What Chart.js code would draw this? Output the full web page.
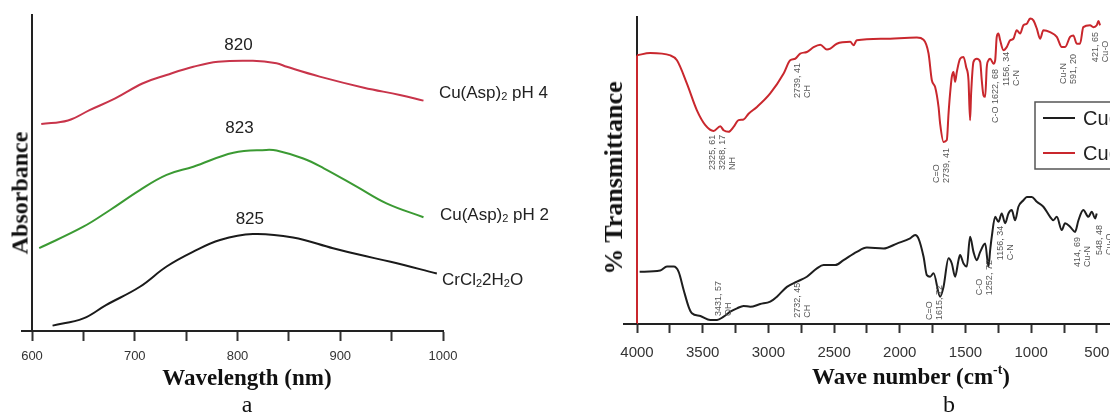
<!DOCTYPE html>
<html>
<head>
<meta charset="utf-8">
<script src="https://cdn.jsdelivr.net/npm/chart.js@4.4.1/dist/chart.umd.min.js"></script>
<style>
  html, body { margin: 0; padding: 0; background: #fff; }
  body { width: 1110px; height: 416px; position: relative; overflow: hidden; }
  canvas { position: absolute; top: 0; }
  #uvCanvas { left: 0; }
  #irCanvas { left: 590px; }
  .axis-title {
    position: absolute;
    font-family: "Liberation Serif", serif;
    font-weight: bold;
    color: #111;
    white-space: nowrap;
    transform: translate(-50%, -50%);
  }
  .axis-title.vertical { transform: translate(-50%, -50%) rotate(-90deg); }
  .axis-title sup { font-size: 60%; vertical-align: 0.7em; line-height: 0; }
  .panel-tag {
    position: absolute;
    font-family: "Liberation Serif", serif;
    font-size: 24px;
    color: #111;
    transform: translate(-50%, -50%);
  }
</style>
</head>
<body>
<canvas id="uvCanvas" width="570" height="416"></canvas>
<canvas id="irCanvas" width="620" height="416"></canvas>

<div class="axis-title vertical" style="left:20px; top:193px; font-size:24px;">Absorbance</div>
<div class="axis-title" style="left:247px; top:378px; font-size:23px;">Wavelength (nm)</div>
<div class="panel-tag" style="left:247px; top:404px;">a</div>

<div class="axis-title vertical" style="left:614px; top:178px; font-size:26px;">% Transmittance</div>
<div class="axis-title" style="left:911px; top:377px; font-size:23px;">Wave number (cm<sup>-t</sup>)</div>
<div class="panel-tag" style="left:949px; top:404px;">b</div>

<script>
// ---- panel a: UV-Vis spectra ----
const uvRedWl = [609, 635, 656, 681, 708, 731, 757, 781, 815, 838, 848, 880, 923, 958, 981];
const uvRedAbs = [0.655, 0.666, 0.699, 0.736, 0.784, 0.810, 0.836, 0.852, 0.855, 0.847, 0.836, 0.805, 0.770, 0.747, 0.729];

const uvGreenWl = [607, 650, 676, 705, 731, 757, 796, 828, 838, 864, 884, 916, 945, 981];
const uvGreenAbs = [0.262, 0.330, 0.383, 0.446, 0.494, 0.520, 0.564, 0.573, 0.571, 0.546, 0.515, 0.457, 0.404, 0.360];

const uvBlackWl = [620, 650, 672, 705, 731, 757, 783, 815, 854, 893, 919, 949, 994];
const uvBlackAbs = [0.017, 0.040, 0.082, 0.140, 0.204, 0.251, 0.288, 0.307, 0.296, 0.262, 0.241, 0.219, 0.182];

const uvPeakLabels = ['820', '823', '825'];
const uvSeriesNames = [
  [['Cu(Asp)', 0], ['2', 1], [' pH 4', 0]],
  [['Cu(Asp)', 0], ['2', 1], [' pH 2', 0]],
  [['CrCl', 0], ['2', 1], ['2H', 0], ['2', 1], ['O', 0]]
];

// ---- panel b: IR spectra ----
const irRedWn = [4000, 3899, 3746, 3696, 3620, 3544, 3480, 3417, 3366, 3341, 3303, 3265, 3227, 3189, 3151, 3087,
  2986, 2884, 2834, 2796, 2758, 2707, 2656, 2605, 2555, 2529, 2479, 2377, 2352, 2327, 2124, 1870, 1819, 1781,
  1756, 1731, 1705, 1693, 1667, 1642, 1629, 1617, 1604, 1591, 1579, 1566, 1541, 1515, 1495, 1477, 1465, 1457,
  1439, 1414, 1388, 1376, 1363, 1350, 1338, 1325, 1312, 1287, 1274, 1262, 1249, 1236, 1211, 1186, 1160, 1135,
  1110, 1084, 1059, 1033, 1008, 983, 957, 932, 907, 856, 805, 767, 742, 704, 679, 653, 628, 603, 552, 526, 501,
  488, 476];
const irRedT = [87.5, 88.3, 87.5, 85.9, 78.3, 69.6, 64.8, 62.9, 64.4, 63.1, 62.6, 64.2, 66.4, 66.6, 68.5, 70.7,
  75.1, 81.6, 85.9, 86.4, 88.1, 88.6, 90.2, 91.0, 89.4, 89.7, 91.3, 91.9, 90.8, 92.4, 92.9, 93.3, 92.6, 88.1,
  79.4, 77.2, 70.7, 65.3, 59.3, 59.9, 68.5, 75.1, 80.5, 82.1, 78.9, 82.1, 86.4, 87.0, 83.7, 79.4, 66.4, 75.1,
  85.4, 86.4, 85.4, 79.4, 74.5, 74.0, 83.7, 85.9, 86.4, 84.8, 85.9, 93.5, 94.6, 92.4, 89.2, 90.2, 92.4, 92.9,
  95.7, 94.6, 97.3, 97.8, 99.5, 98.9, 96.2, 92.9, 95.7, 95.1, 93.5, 90.2, 90.2, 93.5, 94.0, 91.3, 91.3, 96.7,
  97.3, 96.7, 97.3, 98.7, 97.3];

const irBlackWn = [3980, 3823, 3772, 3721, 3683, 3645, 3607, 3582, 3518, 3442, 3391, 3341, 3290, 3239, 3189, 3138,
  3062, 2986, 2935, 2859, 2783, 2707, 2631, 2580, 2491, 2428, 2327, 2251, 2124, 2022, 1921, 1883, 1858, 1819,
  1794, 1769, 1743, 1693, 1667, 1629, 1604, 1579, 1553, 1541, 1515, 1490, 1465, 1439, 1414, 1388, 1350, 1325,
  1312, 1300, 1274, 1249, 1224, 1198, 1173, 1148, 1122, 1097, 1059, 1033, 996, 957, 907, 856, 831, 805, 767,
  742, 704, 666, 640, 603, 564, 539, 513, 501];
const irBlackT = [17.0, 17.4, 18.7, 18.7, 17.0, 11.1, 5.6, 3.5, 2.6, 1.3, 1.3, 2.4, 4.0, 5.1, 5.9, 5.6,
  6.5, 7.3, 8.9, 12.1, 13.8, 15.4, 18.1, 19.2, 19.2, 20.8, 23.5, 24.9, 24.6, 26.2, 27.9, 29.0, 27.9, 21.9,
  15.9, 15.4, 16.5, 8.9, 12.1, 21.4, 19.7, 15.4, 20.8, 22.5, 19.7, 18.7, 28.4, 23.5, 20.8, 23.5, 26.2, 18.7,
  24.1, 28.4, 34.9, 33.3, 36.0, 32.8, 36.0, 37.1, 33.8, 38.2, 40.3, 41.4, 41.4, 39.8, 38.2, 34.9, 33.8, 34.9, 30.6,
  32.8, 31.7, 30.0, 33.8, 37.1, 34.9, 36.6, 34.4, 36.0];

const irSeriesNames = ['Cu(Asp)\u2082 pH 2', 'Cu(Asp)\u2082 pH 4'];

// peak notes: text columns, anchored at the bottom of the first column
const irNotes = [
  { wn: 3422, t: 50.2, lines: ['2325, 61', '3268, 17', 'NH'] },
  { wn: 2782, t: 73.6, lines: ['2739, 41', 'CH'] },
  { wn: 1717, t: 45.9, lines: ['C=O', '2739, 41'] },
  { wn: 1275, t: 65.5, lines: ['C-O 1622, 68'] },
  { wn: 1184, t: 77.5, lines: ['1156, 34', 'C-N'] },
  { wn: 750, t: 78.2, lines: ['Cu-N', '591, 20'] },
  { wn: 507, t: 85.3, lines: ['421, 65', 'Cu-O'] },
  { wn: 3376, t: 2.6, lines: ['3431, 57', 'OH'] },
  { wn: 2782, t: 2.0, lines: ['2732, 45', 'CH'] },
  { wn: 1770, t: 1.3, lines: ['C=O', '1615, 72'] },
  { wn: 1390, t: 9.4, lines: ['C-O', '1252, 72'] },
  { wn: 1237, t: 20.8, lines: ['1156, 34', 'C-N'] },
  { wn: 651, t: 18.6, lines: ['414, 69', 'Cu-N'] },
  { wn: 476, t: 22.5, lines: ['548, 48', 'Cu-O'] }
];

const toPoints = (xs, ys) => xs.map((x, i) => ({ x: x, y: ys[i] }));
const SANS = '"Liberation Sans", Arial, sans-serif';

// extends the x axis line a little to the left of the y axis
const axisStub = {
  id: 'axisStub',
  afterDraw(chart, args, opts) {
    const { ctx, chartArea } = chart;
    ctx.save();
    ctx.strokeStyle = opts.color || '#222';
    ctx.lineWidth = 2;
    ctx.beginPath();
    ctx.moveTo(chartArea.left - opts.length, chartArea.bottom);
    ctx.lineTo(chartArea.left, chartArea.bottom);
    ctx.stroke();
    ctx.restore();
  }
};

function drawRich(ctx, parts, x, y, size) {
  let cx = x;
  parts.forEach(([txt, sub]) => {
    ctx.font = (sub ? Math.round(size * 0.62) : size) + 'px ' + SANS;
    ctx.fillText(txt, cx, sub ? y + size * 0.22 : y);
    cx += ctx.measureText(txt).width;
  });
}

const uvLabels = {
  id: 'uvLabels',
  afterDraw(chart) {
    const { ctx, scales: { x, y } } = chart;
    ctx.save();
    ctx.fillStyle = '#222';
    ctx.textBaseline = 'middle';
    // peak positions above each curve
    const peakAt = [[801, 0.905], [802, 0.641], [812, 0.354]];
    ctx.textAlign = 'center';
    ctx.font = '17px ' + SANS;
    uvPeakLabels.forEach((txt, i) => {
      ctx.fillText(txt, x.getPixelForValue(peakAt[i][0]), y.getPixelForValue(peakAt[i][1]));
    });
    // series names at the right end
    const nameAt = [[996, 0.752], [997, 0.367], [999, 0.161]];
    ctx.textAlign = 'left';
    uvSeriesNames.forEach((parts, i) => {
      drawRich(ctx, parts, x.getPixelForValue(nameAt[i][0]), y.getPixelForValue(nameAt[i][1]), 17);
    });
    ctx.restore();
  }
};

const irExtras = {
  id: 'irExtras',
  afterDatasetsDraw(chart) {
    const { ctx, chartArea, scales: { x, y } } = chart;
    // red spectrum drops down along the y axis
    const first = chart.getDatasetMeta(1).data[0];
    ctx.save();
    ctx.strokeStyle = chart.data.datasets[1].borderColor;
    ctx.lineWidth = 2;
    ctx.beginPath();
    ctx.moveTo(chartArea.left, chartArea.bottom);
    ctx.lineTo(chartArea.left, first.y);
    ctx.stroke();

    // rotated peak notes
    ctx.fillStyle = '#555';
    ctx.font = '9px ' + SANS;
    ctx.textAlign = 'left';
    ctx.textBaseline = 'middle';
    irNotes.forEach(note => {
      const px = x.getPixelForValue(note.wn);
      const py = y.getPixelForValue(note.t);
      note.lines.forEach((line, i) => {
        ctx.save();
        ctx.translate(px + i * 10, py);
        ctx.rotate(-Math.PI / 2);
        ctx.fillText(line, 0, 0);
        ctx.restore();
      });
    });

    // legend box (runs off the right edge like the original)
    const bx = chartArea.left + 398, by = 102;
    ctx.fillStyle = '#fff';
    ctx.fillRect(bx, by, 200, 67);
    ctx.strokeStyle = '#555';
    ctx.lineWidth = 1.5;
    ctx.strokeRect(bx, by, 200, 67);
    ctx.font = '20px ' + SANS;
    chart.data.datasets.forEach((ds, i) => {
      const ly = by + 16 + i * 35;
      ctx.strokeStyle = ds.borderColor;
      ctx.lineWidth = 2;
      ctx.beginPath();
      ctx.moveTo(bx + 8, ly);
      ctx.lineTo(bx + 40, ly);
      ctx.stroke();
      ctx.fillStyle = '#222';
      ctx.fillText(ds.label, bx + 48, ly + 1);
    });
    ctx.restore();
  }
};

const commonLine = { pointRadius: 0, borderWidth: 2, fill: false };

new Chart(document.getElementById('uvCanvas').getContext('2d'), {
  type: 'line',
  data: {
    datasets: [
      { ...commonLine, label: 'Cu(Asp)2 pH 4', data: toPoints(uvRedWl, uvRedAbs), borderColor: '#c8344a', tension: 0.4 },
      { ...commonLine, label: 'Cu(Asp)2 pH 2', data: toPoints(uvGreenWl, uvGreenAbs), borderColor: '#3b9a33', tension: 0.4 },
      { ...commonLine, label: 'CrCl2 2H2O', data: toPoints(uvBlackWl, uvBlackAbs), borderColor: '#1a1a1a', tension: 0.4 }
    ]
  },
  options: {
    responsive: false,
    animation: false,
    devicePixelRatio: 1,
    layout: { padding: { left: 32, right: 127, top: 15, bottom: 51 } },
    scales: {
      x: {
        type: 'linear',
        min: 600,
        max: 1000,
        afterFit: s => { s.height = 34; },
        border: { display: true, color: '#222', width: 2 },
        grid: { display: true, drawOnChartArea: false, drawTicks: true, tickLength: 10, tickColor: '#333', tickWidth: 2 },
        ticks: {
          stepSize: 50,
          autoSkip: false,
          maxRotation: 0,
          padding: 8,
          color: '#333',
          font: { family: SANS, size: 13 },
          callback: v => (v % 100 === 0 ? v : '')
        }
      },
      y: {
        min: 0,
        max: 1,
        afterFit: s => { s.width = 0; },
        border: { display: true, color: '#222', width: 2 },
        grid: { display: false, drawTicks: false },
        ticks: { display: false }
      }
    },
    plugins: {
      legend: { display: false },
      tooltip: { enabled: false },
      axisStub: { length: 11 }
    }
  },
  plugins: [axisStub, uvLabels]
});

new Chart(document.getElementById('irCanvas').getContext('2d'), {
  type: 'line',
  data: {
    datasets: [
      { ...commonLine, label: irSeriesNames[0], data: toPoints(irBlackWn, irBlackT), borderColor: '#1e1e1e', cubicInterpolationMode: 'monotone' },
      { ...commonLine, label: irSeriesNames[1], data: toPoints(irRedWn, irRedT), borderColor: '#c9272d', cubicInterpolationMode: 'monotone' }
    ]
  },
  options: {
    responsive: false,
    animation: false,
    devicePixelRatio: 1,
    layout: { padding: { left: 47, right: 100, top: 17, bottom: 54 } },
    scales: {
      x: {
        type: 'linear',
        reverse: true,
        min: 400,
        max: 4000,
        afterFit: s => { s.height = 38; },
        border: { display: true, color: '#222', width: 2 },
        grid: { display: true, drawOnChartArea: false, drawTicks: true, tickLength: 9, tickColor: '#333', tickWidth: 2 },
        ticks: {
          stepSize: 250,
          includeBounds: false,
          autoSkip: false,
          maxRotation: 0,
          padding: 11,
          color: '#333',
          font: { family: SANS, size: 15 },
          callback: v => (v % 500 === 0 ? v : '')
        }
      },
      y: {
        min: 0,
        max: 100,
        afterFit: s => { s.width = 0; },
        border: { display: true, color: '#222', width: 2 },
        grid: { display: false, drawTicks: false },
        ticks: { display: false }
      }
    },
    plugins: {
      legend: { display: false },
      tooltip: { enabled: false },
      axisStub: { length: 14 }
    }
  },
  plugins: [axisStub, irExtras]
});
</script>
</body>
</html>
